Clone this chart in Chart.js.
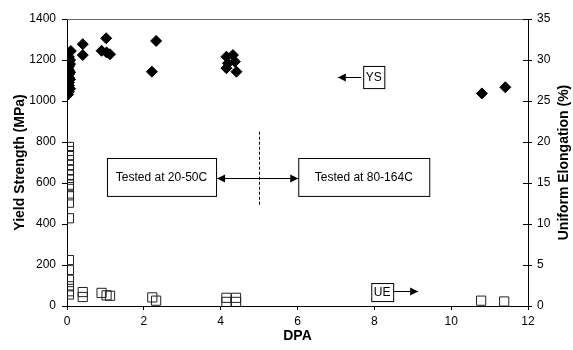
<!DOCTYPE html>
<html>
<head>
<meta charset="utf-8">
<script src="https://cdn.jsdelivr.net/npm/chart.js@4/dist/chart.umd.min.js"></script>
<style>
  body { margin: 0; background: #fff; }
  #wrap { width: 573px; height: 350px; position: relative; }
</style>
</head>
<body>
<div id="wrap"><canvas id="chart"></canvas></div>
<script>
// yield strength (MPa) vs dose
const ysDpa = [0.1, 0.05, 0.08, 0.05, 0.08, 0.05, 0.03, 0.05, 0.08, 0.05, 0.05, 0.08, 0.05, 0.05, 0.08, 0.05, 0.03,
  0.41, 0.41, 1.02, 0.9, 1.03, 1.12, 2.21, 2.32,
  4.15, 4.32, 4.19, 4.37, 4.15, 4.41, 10.8, 11.41];
const ysValues = [1244, 1215, 1200, 1195, 1180, 1170, 1160, 1150, 1140, 1130, 1115, 1105, 1090, 1075, 1060, 1045, 1032,
  1277, 1224, 1306, 1245, 1237, 1228, 1143, 1293,
  1216, 1224, 1184, 1192, 1160, 1143, 1037, 1067];

// uniform elongation (%) vs dose
const ueDpa = [0.05, 0.05, 0.05, 0.05, 0.05, 0.05, 0.05, 0.05, 0.05, 0.05, 0.05, 0.05, 0.05,
  0.05, 0.05, 0.05, 0.05, 0.05, 0.05,
  0.41, 0.41, 0.9, 1.03, 1.12, 2.22, 2.32,
  4.15, 4.15, 4.4, 4.4, 10.78, 11.38];
const ueValues = [19.4, 18.9, 18.4, 17.8, 17.2, 16.6, 16.0, 15.4, 14.8, 14.5, 13.5, 12.6, 10.7,
  5.6, 4.4, 3.2, 2.4, 1.8, 1.4,
  1.7, 1.1, 1.6, 1.3, 1.25, 1.05, 0.65,
  1.0, 0.5, 1.0, 0.5, 0.65, 0.55];

const dpaRange = [0, 12];
const ysRange = [0, 1400];
const ueRange = [0, 35];

const FONT = "'Liberation Sans', Arial, sans-serif";
Chart.defaults.font.family = FONT;
Chart.defaults.color = '#000';

const toPoints = (xs, ys) => xs.map((x, i) => ({ x: x, y: ys[i] }));
const plain = (v) => String(v);

function arrowHead(ctx, x, y, dir) {
    ctx.beginPath();
    ctx.moveTo(x, y);
    ctx.lineTo(x - dir * 8, y - 4);
    ctx.lineTo(x - dir * 8, y + 4);
    ctx.closePath();
    ctx.fill();
}

function labelBox(ctx, x0, y0, x1, y1, text) {
    ctx.fillStyle = '#fff';
    ctx.fillRect(x0, y0, x1 - x0, y1 - y0);
    ctx.strokeRect(x0 + 0.5, y0 + 0.5, x1 - x0, y1 - y0);
    ctx.fillStyle = '#000';
    ctx.fillText(text, (x0 + x1) / 2, (y0 + y1) / 2 + 1);
}

const notes = {
    id: 'notes',
    afterDraw(chart) {
        const { ctx, chartArea: a } = chart;
        const sx = chart.scales.x, sy = chart.scales.y, su = chart.scales.y1;
        ctx.save();
        ctx.strokeStyle = '#000';
        ctx.fillStyle = '#000';
        ctx.lineWidth = 1;

        // top frame
        ctx.strokeStyle = '#666';
        ctx.beginPath();
        ctx.moveTo(a.left, a.top + 0.5);
        ctx.lineTo(a.right, a.top + 0.5);
        ctx.stroke();

        // inner part of right ticks
        ctx.strokeStyle = '#000';
        for (let v = ueRange[0]; v <= ueRange[1]; v += 5) {
            const py = Math.round(su.getPixelForValue(v)) + 0.5;
            ctx.beginPath();
            ctx.moveTo(a.right - 5, py);
            ctx.lineTo(a.right, py);
            ctx.stroke();
        }

        ctx.font = '12px ' + FONT;
        ctx.textAlign = 'center';
        ctx.textBaseline = 'middle';

        // dashed split at 5 dpa
        const xs = Math.round(sx.getPixelForValue(5)) + 0.5;
        ctx.setLineDash([3, 2]);
        ctx.beginPath();
        ctx.moveTo(xs, sy.getPixelForValue(850));
        ctx.lineTo(xs, sy.getPixelForValue(490));
        ctx.stroke();
        ctx.setLineDash([]);

        // temperature boxes and double arrow
        const bTop = sy.getPixelForValue(722), bBot = sy.getPixelForValue(537);
        const b1l = sx.getPixelForValue(1.04), b1r = sx.getPixelForValue(3.88);
        const b2l = sx.getPixelForValue(6.02), b2r = sx.getPixelForValue(9.43);
        labelBox(ctx, b1l, bTop, b1r, bBot, 'Tested at 20-50C');
        labelBox(ctx, b2l, bTop, b2r, bBot, 'Tested at 80-164C');
        const ay = Math.round(sy.getPixelForValue(624)) + 0.5;
        ctx.beginPath();
        ctx.moveTo(b1r + 1, ay);
        ctx.lineTo(b2l, ay);
        ctx.stroke();
        arrowHead(ctx, b1r + 1, ay, -1);
        arrowHead(ctx, b2l, ay, 1);

        // YS tag
        const ysl = sx.getPixelForValue(7.71), ysr = sx.getPixelForValue(8.26);
        labelBox(ctx, ysl, sy.getPixelForValue(1171), ysr, sy.getPixelForValue(1063), 'YS');
        const yay = Math.round(sy.getPixelForValue(1117)) + 0.5;
        const yaEnd = sx.getPixelForValue(7.05);
        ctx.beginPath();
        ctx.moveTo(ysl - 2, yay);
        ctx.lineTo(yaEnd, yay);
        ctx.stroke();
        arrowHead(ctx, yaEnd, yay, -1);

        // UE tag
        const uel = sx.getPixelForValue(7.92), uer = sx.getPixelForValue(8.49);
        labelBox(ctx, uel, su.getPixelForValue(2.8), uer, su.getPixelForValue(0.6), 'UE');
        const uay = Math.round(su.getPixelForValue(1.8)) + 0.5;
        const uaEnd = sx.getPixelForValue(9.14);
        ctx.beginPath();
        ctx.moveTo(uer, uay);
        ctx.lineTo(uaEnd, uay);
        ctx.stroke();
        arrowHead(ctx, uaEnd, uay, 1);

        // right axis title, reading bottom to top
        ctx.font = 'bold 14px ' + FONT;
        ctx.translate(564, (a.top + a.bottom) / 2);
        ctx.rotate(-Math.PI / 2);
        ctx.fillText('Uniform Elongation (%)', 0, 0);
        ctx.restore();
    }
};

new Chart(document.getElementById('chart'), {
    type: 'scatter',
    data: {
        datasets: [
            {
                label: 'YS',
                data: toPoints(ysDpa, ysValues),
                yAxisID: 'y',
                pointStyle: 'rectRot',
                pointRadius: 5.5,
                pointBackgroundColor: '#000',
                pointBorderColor: '#000',
                pointBorderWidth: 1,
            },
            {
                label: 'UE',
                data: toPoints(ueDpa, ueValues),
                yAxisID: 'y1',
                pointStyle: 'rect',
                pointRadius: 6.5,
                pointBackgroundColor: 'rgba(255,255,255,0)',
                pointBorderColor: '#222',
                pointBorderWidth: 1,
            },
        ],
    },
    options: {
        responsive: true,
        maintainAspectRatio: false,
        animation: false,
        layout: { padding: { top: 19, left: 0, right: 0, bottom: 0 } },
        plugins: {
            legend: { display: false },
            tooltip: { enabled: false },
        },
        scales: {
            x: {
                type: 'linear',
                min: dpaRange[0],
                max: dpaRange[1],
                ticks: { stepSize: 2, font: { size: 12 }, padding: 4, callback: plain },
                grid: { drawOnChartArea: false, tickLength: 4, color: '#000' },
                border: { color: '#000' },
                title: { display: true, text: 'DPA', font: { size: 14, weight: 'bold' }, padding: { top: 0, bottom: 5 } },
                afterFit: (s) => { s.height = 44; },
            },
            y: {
                position: 'left',
                min: ysRange[0],
                max: ysRange[1],
                ticks: { stepSize: 200, font: { size: 12 }, padding: 6, callback: plain },
                grid: { drawOnChartArea: false, tickLength: 5, color: '#000' },
                border: { color: '#000' },
                title: { display: true, text: 'Yield Strength (MPa)', font: { size: 14, weight: 'bold' }, padding: { top: 12, bottom: 0 } },
                afterFit: (s) => { s.width = 67; },
            },
            y1: {
                position: 'right',
                min: ueRange[0],
                max: ueRange[1],
                ticks: { stepSize: 5, font: { size: 12 }, padding: 5, callback: plain },
                grid: { drawOnChartArea: false, tickLength: 4, color: '#000' },
                border: { color: '#000' },
                afterFit: (s) => { s.width = 45; },
            },
        },
    },
    plugins: [notes],
});
</script>
</body>
</html>
